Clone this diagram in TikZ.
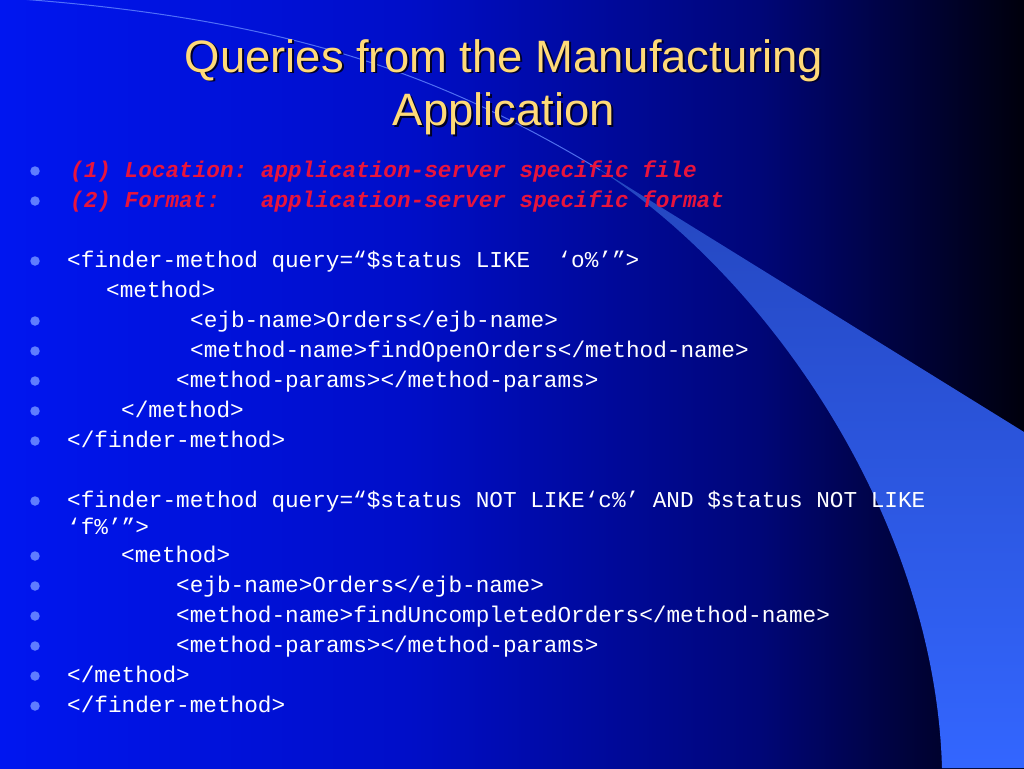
\documentclass[tikz,border=0pt]{standalone}
\usepackage{fontspec}
\setmainfont{Liberation Sans}
\newfontfamily\codefont{Liberation Mono}
\definecolor{bgA}{RGB}{0,22,240}
\definecolor{bgB}{RGB}{0,14,200}
\definecolor{bgC}{RGB}{0,6,120}
\definecolor{bgD}{RGB}{0,0,12}
\definecolor{crestop}{RGB}{36,70,190}
\definecolor{cresbot}{RGB}{51,102,255}
\definecolor{creline}{RGB}{100,135,255}
\definecolor{titleyellow}{RGB}{255,218,120}
\definecolor{shadowc}{RGB}{0,0,40}
\definecolor{hotred}{RGB}{232,20,60}
\definecolor{bulletblue}{RGB}{95,125,255}
\pgfdeclarehorizontalshading{bgshade}{100bp}{color(0bp)=(bgA); color(25bp)=(bgA); color(45bp)=(bgB); color(62bp)=(bgC); color(75bp)=(bgD); color(100bp)=(bgD)}
\begin{document}
\frenchspacing
\begin{tikzpicture}[x=1pt,y=-1pt,
  code/.style={anchor=base west, inner sep=0, text=white, font=\codefont\fontsize{22.7}{27}\selectfont},
  redcode/.style={anchor=base west, inner sep=0, text=hotred, font=\codefont\fontsize{22.7}{27}\selectfont\bfseries\itshape},
  dot/.style={circle, fill=bulletblue, inner sep=0, minimum size=9.5pt},
  ttl/.style={font=\fontsize{45.4}{53}\selectfont, text=titleyellow, inner sep=0, anchor=base},
  ttlshadow/.style={ttl, text=shadowc}]
\useasboundingbox (0,0) rectangle (1024,768);
% background
\shade[shading=bgshade] (0,0) rectangle (1024,768);
% crescent
\shade[top color=crestop, middle color=cresbot, bottom color=cresbot]
  (596,167) -- (1024,432) -- (1024,768) -- (942,768)
  .. controls (935,520) and (770,280) .. (600,170) -- cycle;
\draw[creline, line width=1pt, opacity=0.8] (20,-1) .. controls (300,20) and (450,80) .. (600,170);
% title
\node[ttlshadow] (t1s) at (506,74) {Queries from the Manufacturing};
\node[ttlshadow] (t2s) at (506,127) {Application};
\node[ttl] (t1) at (504,72) {Queries from the Manufacturing};
\node[ttl] (t2) at (504,125) {Application};
% bullets
\foreach \y/\n in {170/1,200/2,260/3,320/4,350/5,380/6,410/7,440/8,500/9,555/10,585/11,615/12,645/13,675/14,705/15}
  \node[dot] (b\n) at (35,\y+1) {};
% text lines
\node[redcode] (r1) at (70,177) {(1) Location: application-server specific file};
\node[redcode] (r2) at (70,207) {(2) Format:\ \ \ application-server specific format};
\node[code] (l1) at (67,267) {<finder-method query=“\$status LIKE\ \ ‘o\%’”>};
\node[code] (l2) at (106,297) {<method>};
\node[code] (l3) at (190,327) {<ejb-name>Orders</ejb-name>};
\node[code] (l4) at (190,357) {<method-name>findOpenOrders</method-name>};
\node[code] (l5) at (176,387) {<method-params></method-params>};
\node[code] (l6) at (121,417) {</method>};
\node[code] (l7) at (67,447) {</finder-method>};
\node[code] (m1) at (67,507) {<finder-method query=“\$status NOT LIKE‘c\%’ AND \$status NOT LIKE};
\node[code] (m1b) at (67,534) {‘f\%’”>};
\node[code] (m2) at (121,562) {<method>};
\node[code] (m3) at (176,592) {<ejb-name>Orders</ejb-name>};
\node[code] (m4) at (176,622) {<method-name>findUncompletedOrders</method-name>};
\node[code] (m5) at (176,652) {<method-params></method-params>};
\node[code] (m6) at (67,682) {</method>};
\node[code] (m7) at (67,712) {</finder-method>};
\end{tikzpicture}
\end{document}
